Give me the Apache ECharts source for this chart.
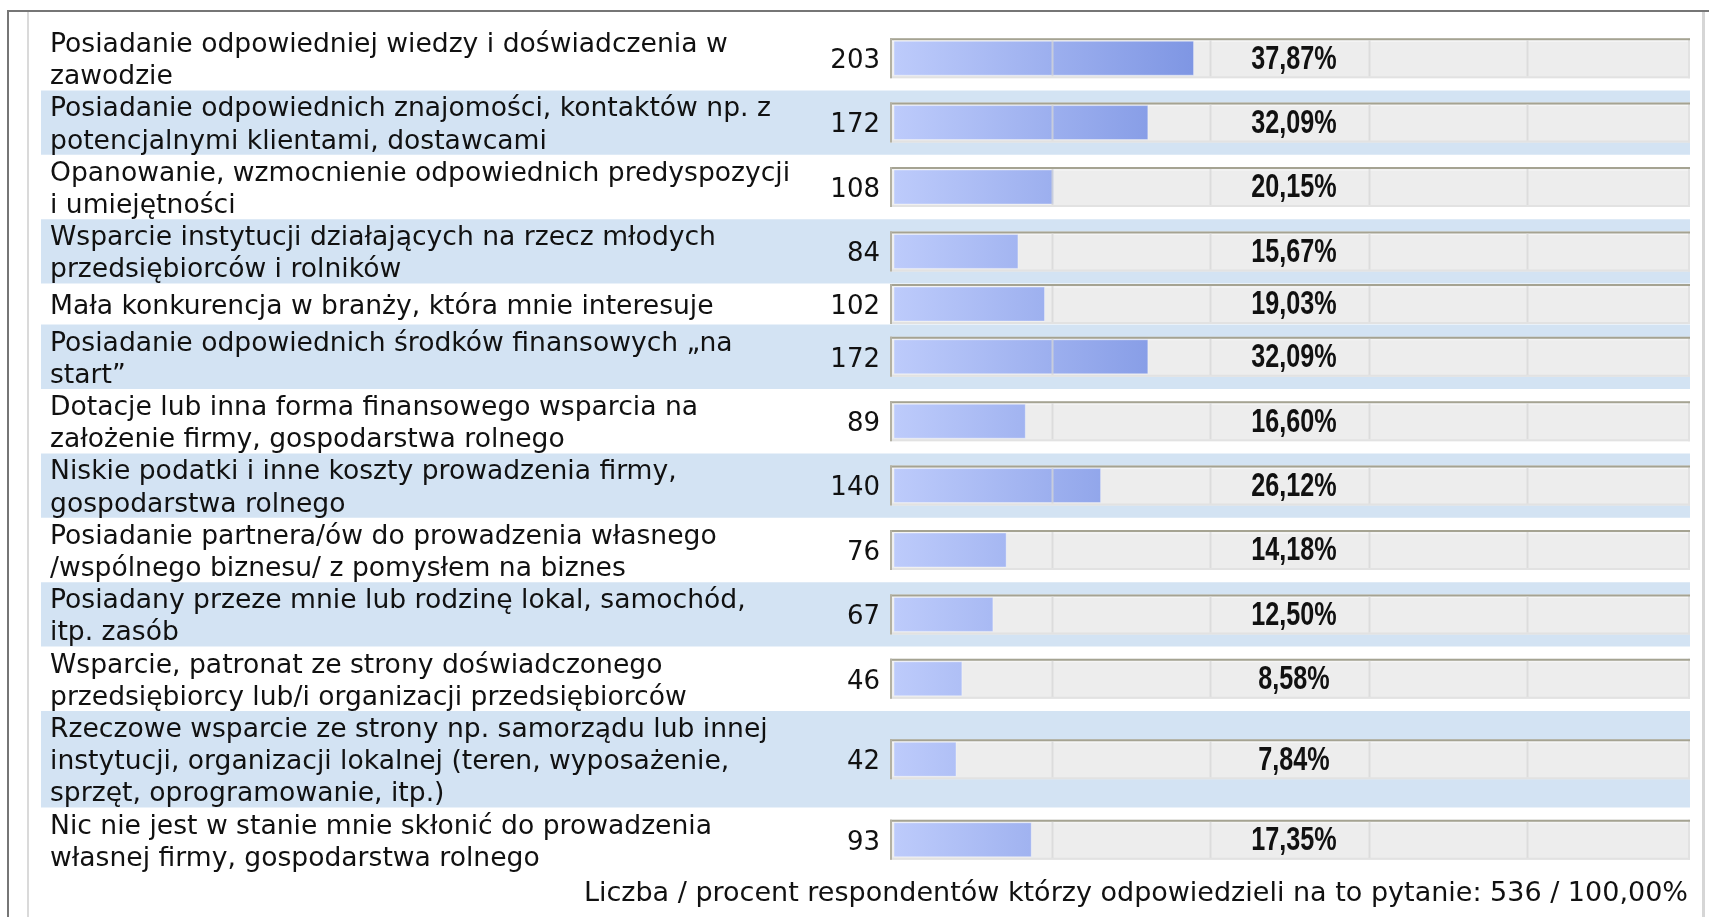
<!DOCTYPE html>
<html>
<head>
<meta charset="utf-8">
<script src="https://cdn.jsdelivr.net/npm/echarts@6/dist/echarts.min.js"></script>
<style>
  html, body { margin: 0; padding: 0; background: #fff; }
  #chart { width: 1709px; height: 917px; }
</style>
</head>
<body>
<div id="chart"></div>
<script>
// answers (line breaks as in the survey table)
const answers = [
  'Posiadanie odpowiedniej wiedzy i doświadczenia w\nzawodzie',
  'Posiadanie odpowiednich znajomości, kontaktów np. z\npotencjalnymi klientami, dostawcami',
  'Opanowanie, wzmocnienie odpowiednich predyspozycji\ni umiejętności',
  'Wsparcie instytucji działających na rzecz młodych\nprzedsiębiorców i rolników',
  'Mała konkurencja w branży, która mnie interesuje',
  'Posiadanie odpowiednich środków finansowych „na\nstart”',
  'Dotacje lub inna forma finansowego wsparcia na\nzałożenie firmy, gospodarstwa rolnego',
  'Niskie podatki i inne koszty prowadzenia firmy,\ngospodarstwa rolnego',
  'Posiadanie partnera/ów do prowadzenia własnego\n/wspólnego biznesu/ z pomysłem na biznes',
  'Posiadany przeze mnie lub rodzinę lokal, samochód,\nitp. zasób',
  'Wsparcie, patronat ze strony doświadczonego\nprzedsiębiorcy lub/i organizacji przedsiębiorców',
  'Rzeczowe wsparcie ze strony np. samorządu lub innej\ninstytucji, organizacji lokalnej (teren, wyposażenie,\nsprzęt, oprogramowanie, itp.)',
  'Nic nie jest w stanie mnie skłonić do prowadzenia\nwłasnej firmy, gospodarstwa rolnego'
]
const counts = [203, 172, 108, 84, 102, 172, 89, 140, 76, 67, 46, 42, 93]
const percents = [37.87, 32.09, 20.15, 15.67, 19.03, 32.09, 16.60, 26.12, 14.18, 12.50, 8.58, 7.84, 17.35]
const totalCount = 536
const totalPercent = 100

// row layout: height follows the number of text lines
const LINE = 32.2
const MIN_ROW = 41
const rowTops = []
const rowHeights = []
let acc = 0
answers.forEach(a => {
  const h = Math.max(a.split('\n').length * LINE, MIN_ROW)
  rowTops.push(acc)
  rowHeights.push(h)
  acc += h
})
const totalH = acc

const fmt = v => v.toFixed(2).replace('.', ',') + '%'
const FONT = 'Verdana, "DejaVu Sans", sans-serif'

const chart = echarts.init(document.getElementById('chart'))

function renderRow (params, api) {
  const i = params.dataIndex
  const top = api.value(1)
  const h = api.value(2)
  const pT = api.coord([0, top])
  const pB = api.coord([0, top + h])
  const x0 = pT[0]
  const x100 = api.coord([100, top])[0]
  const xv = api.coord([api.value(0), top])[0]
  const yT = pT[1]
  const yB = pB[1]
  const cy = (yT + yB) / 2
  const tl = x0 - 4
  const tr = x100 + 5
  const kids = []

  if (i % 2 === 1) {
    kids.push({ type: 'rect', shape: { x: 41, y: yT, width: tr - 41, height: yB - yT }, style: { fill: '#d3e3f3' } })
  }
  // track
  kids.push({ type: 'rect', shape: { x: tl, y: cy - 20, width: tr - tl, height: 40 }, style: { fill: '#ededed' } })
  kids.push({ type: 'line', shape: { x1: tl, y1: cy + 19, x2: tr, y2: cy + 19 }, style: { stroke: '#e2e2e2', lineWidth: 2 } })
  kids.push({ type: 'line', shape: { x1: tr - 1, y1: cy - 20, x2: tr - 1, y2: cy + 20 }, style: { stroke: '#e2e2e2', lineWidth: 2 } })
  kids.push({ type: 'line', shape: { x1: tl, y1: cy - 19, x2: tr, y2: cy - 19 }, style: { stroke: '#a5a392', lineWidth: 2 } })
  kids.push({ type: 'line', shape: { x1: tl + 1, y1: cy - 20, x2: tl + 1, y2: cy + 20 }, style: { stroke: '#b3b1a3', lineWidth: 2 } })
  kids.push({ type: 'line', shape: { x1: tl + 2, y1: cy - 17, x2: tr - 2, y2: cy - 17 }, style: { stroke: '#f7f7f7', lineWidth: 1 } })
  // bar
  kids.push({
    type: 'rect',
    shape: { x: x0, y: cy - 17, width: xv - x0, height: 34 },
    style: {
      fill: new echarts.graphic.LinearGradient(x0, 0, x0 + (x100 - x0) * 0.4, 0, [
        { offset: 0, color: '#bdcbfb' },
        { offset: 1, color: '#7b93e2' }
      ], true),
      stroke: 'rgba(255,255,255,0.35)',
      lineWidth: 1
    }
  })
  // dividers every 20 %
  ;[20, 40, 60, 80].forEach(k => {
    const x = Math.round(api.coord([k, top])[0]) + 0.5
    kids.push({ type: 'line', shape: { x1: x, y1: cy - 18, x2: x, y2: cy + 18 }, style: { stroke: 'rgba(214,214,214,0.75)', lineWidth: 2 } })
  })
  kids.push({ type: 'text', style: { text: answers[i], x: 50, y: cy + 3, align: 'left', verticalAlign: 'middle', font: '26.6px ' + FONT, lineHeight: LINE, fill: '#111' } })
  kids.push({ type: 'text', style: { text: String(api.value(3)), x: 880, y: cy + 3, align: 'right', verticalAlign: 'middle', font: '26px ' + FONT, fill: '#111' } })
  // narrow bold percentage, squeezed horizontally
  kids.push({
    type: 'text',
    x: (tl + tr) / 2 + 4,
    y: cy + 1,
    scaleX: 0.74,
    style: { text: fmt(api.value(0)), x: 0, y: 0, align: 'center', verticalAlign: 'middle', font: 'bold 34px "Liberation Sans", Arial, sans-serif', fill: '#111' }
  })
  return { type: 'group', children: kids }
}

const option = {
  animation: false,
  grid: { left: 894, top: 26, width: 791, height: totalH },
  xAxis: { type: 'value', min: 0, max: 100, show: false },
  yAxis: { type: 'value', min: 0, max: totalH, inverse: true, show: false },
  graphic: [
    { type: 'line', shape: { x1: 7, y1: 11, x2: 1709, y2: 11 }, style: { stroke: '#767676', lineWidth: 2 } },
    { type: 'line', shape: { x1: 8, y1: 11, x2: 8, y2: 917 }, style: { stroke: '#767676', lineWidth: 2 } },
    { type: 'line', shape: { x1: 28, y1: 12, x2: 28, y2: 917 }, style: { stroke: '#dadada', lineWidth: 2 } },
    { type: 'line', shape: { x1: 1703.5, y1: 12, x2: 1703.5, y2: 917 }, style: { stroke: '#d6d6d6', lineWidth: 3 } },
    {
      type: 'text',
      style: {
        text: 'Liczba / procent respondentów którzy odpowiedzieli na to pytanie: ' + totalCount + ' / ' + fmt(totalPercent),
        x: 1688, y: 894, align: 'right', verticalAlign: 'middle', font: '27px ' + FONT, fill: '#111'
      }
    }
  ],
  series: [{
    type: 'custom',
    renderItem: renderRow,
    encode: { x: 0, y: 1 },
    clip: false,
    data: answers.map((a, i) => [percents[i], rowTops[i], rowHeights[i], counts[i]])
  }]
}
chart.setOption(option)
</script>
</body>
</html>
